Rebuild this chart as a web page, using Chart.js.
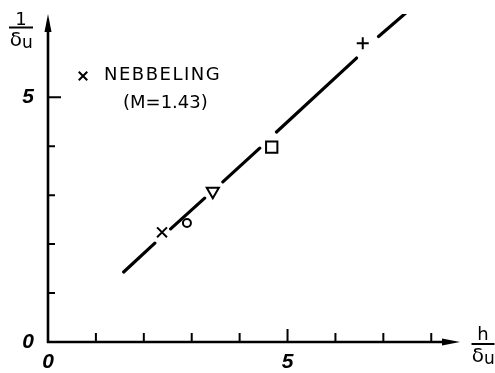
<!DOCTYPE html>
<html>
<head>
<meta charset="utf-8">
<script src="https://cdn.jsdelivr.net/npm/chart.js@4"></script>
<style>
  html, body { margin: 0; padding: 0; background: #fff; }
  #wrap { width: 495px; height: 373px; position: relative; }
</style>
</head>
<body>
<div id="wrap"><canvas id="chart"></canvas></div>
<script>
// Measured points (h/δu, 1/δu)
const pointX = [2.38, 2.90, 3.44, 4.67, 6.57];
const pointY = [2.24, 2.43, 3.08, 3.98, 6.10];
const pointStyles = ['crossRot', 'circle', 'triangle', 'rect', 'cross'];
const pointSizes = [7, 4, 7, 8, 6];
const pointTurns = [0, 0, 180, 0, 0];

// Fitted line, broken where it passes the markers
const segStartX = [1.58, 2.56, 3.65, 4.77, 6.90];
const segStartY = [1.43, 2.31, 3.27, 4.29, 6.24];
const segEndX = [2.23, 3.27, 4.42, 6.44, 7.48];
const segEndY = [2.02, 2.94, 3.96, 5.80, 6.73];

// Axes
const xMax = 8.6;
const yMax = 6.7;
const xTicks = [1, 2, 3, 4, 5, 6, 7, 8];
const yTicks = [1, 2, 3, 4, 5];
const xTickLabels = ['0', '5'];
const xTickValues = [0, 5];
const yTickLabels = ['0', '5'];
const yTickValues = [0, 5];

// Legend
const legendName = 'NEBBELING';
const legendNote = '(M=1.43)';

// Build line data with null gaps between the dashes
const lineData = [];
segStartX.forEach((x, i) => {
  if (i > 0) {
    lineData.push({ x: (segEndX[i - 1] + x) / 2, y: null });
  }
  lineData.push({ x: x, y: segStartY[i] });
  lineData.push({ x: segEndX[i], y: segEndY[i] });
});

const pointData = pointX.map((x, i) => ({ x: x, y: pointY[i] }));

function drawFraction(ctx, cx, top, bar, bottom, width) {
  // numerator / bar / denominator "δu"
  ctx.fillText(top.text, cx, top.y);
  ctx.beginPath();
  ctx.lineWidth = 2;
  ctx.moveTo(cx - width / 2, bar);
  ctx.lineTo(cx + width / 2, bar);
  ctx.stroke();
  ctx.font = '20px "DejaVu Sans"';
  ctx.textAlign = 'right';
  ctx.fillText('δ', cx + 1, bottom);
  ctx.font = '17px "DejaVu Sans"';
  ctx.textAlign = 'left';
  ctx.fillText('u', cx + 1, bottom + 3);
  ctx.textAlign = 'center';
}

const axesPlugin = {
  id: 'handAxes',
  afterDraw(chart) {
    const ctx = chart.ctx;
    const xs = chart.scales.x;
    const ys = chart.scales.y;
    const x0 = xs.getPixelForValue(0);
    const y0 = ys.getPixelForValue(0);
    const xEnd = xs.getPixelForValue(xMax);
    const yEnd = ys.getPixelForValue(yMax);

    ctx.save();
    ctx.strokeStyle = '#000';
    ctx.fillStyle = '#000';
    ctx.lineCap = 'butt';

    // axis lines
    ctx.lineWidth = 2.6;
    ctx.beginPath();
    ctx.moveTo(x0, y0 + 1);
    ctx.lineTo(x0, yEnd + 10);
    ctx.moveTo(x0 - 1, y0);
    ctx.lineTo(xEnd - 10, y0);
    ctx.stroke();

    // arrow heads
    ctx.beginPath();
    ctx.moveTo(x0, yEnd);
    ctx.lineTo(x0 - 3.5, yEnd + 18);
    ctx.lineTo(x0 + 3.5, yEnd + 18);
    ctx.closePath();
    ctx.fill();
    ctx.beginPath();
    ctx.moveTo(xEnd, y0);
    ctx.lineTo(xEnd - 18, y0 - 3.5);
    ctx.lineTo(xEnd - 18, y0 + 3.5);
    ctx.closePath();
    ctx.fill();

    // inward ticks
    ctx.lineWidth = 2;
    ctx.beginPath();
    xTicks.forEach((v) => {
      const px = xs.getPixelForValue(v);
      const len = v === 5 ? 13 : 9;
      ctx.moveTo(px, y0);
      ctx.lineTo(px, y0 - len);
    });
    yTicks.forEach((v) => {
      const py = ys.getPixelForValue(v);
      const len = v === 5 ? 13 : 7;
      ctx.moveTo(x0, py);
      ctx.lineTo(x0 + len, py);
    });
    ctx.stroke();

    // tick labels
    ctx.font = 'italic bold 21px "Liberation Sans"';
    ctx.textAlign = 'center';
    ctx.textBaseline = 'middle';
    xTickValues.forEach((v, i) => {
      ctx.fillText(xTickLabels[i], xs.getPixelForValue(v), y0 + 20);
    });
    yTickValues.forEach((v, i) => {
      ctx.fillText(yTickLabels[i], x0 - 20, ys.getPixelForValue(v));
    });

    // axis titles
    ctx.font = '18px "DejaVu Sans"';
    drawFraction(ctx, 21, { text: '1', y: 20 }, 27.5, 41, 24);
    ctx.font = '18px "DejaVu Sans"';
    drawFraction(ctx, 483, { text: 'h', y: 335 }, 344, 357, 23);

    // legend
    Chart.helpers.drawPoint(ctx, {
      pointStyle: 'crossRot', radius: 6, borderWidth: 2, rotation: 0
    }, 83, 76);
    ctx.font = '18px "DejaVu Sans"';
    ctx.letterSpacing = '1.5px';
    ctx.textAlign = 'left';
    ctx.fillText(legendName, 104, 75);
    ctx.letterSpacing = '0px';
    ctx.font = '18px "DejaVu Sans"';
    ctx.fillText(legendNote, 123, 103);

    ctx.restore();
  }
};

new Chart(document.getElementById('chart'), {
  type: 'scatter',
  data: {
    datasets: [
      {
        type: 'line',
        data: lineData,
        borderColor: '#000',
        borderWidth: 3.2,
        borderCapStyle: 'round',
        pointRadius: 0,
        spanGaps: false,
        fill: false
      },
      {
        data: pointData,
        pointStyle: pointStyles,
        pointRadius: pointSizes,
        pointRotation: pointTurns,
        borderColor: '#000',
        backgroundColor: 'rgba(0,0,0,0)',
        pointBorderWidth: 2
      }
    ]
  },
  options: {
    responsive: true,
    maintainAspectRatio: false,
    animation: false,
    layout: { padding: { left: 48, right: 35, top: 14, bottom: 31 } },
    plugins: { legend: { display: false }, tooltip: { enabled: false } },
    scales: {
      x: { type: 'linear', min: 0, max: xMax, display: false },
      y: { type: 'linear', min: 0, max: yMax, display: false }
    }
  },
  plugins: [axesPlugin]
});
</script>
</body>
</html>
